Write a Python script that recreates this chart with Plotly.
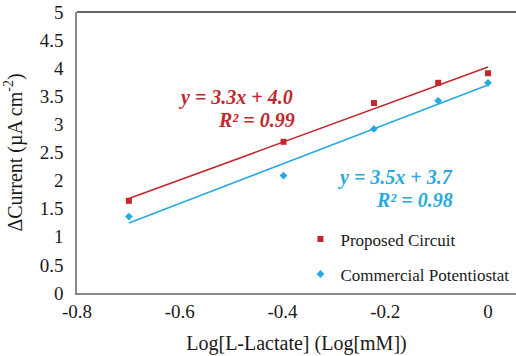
import numpy as np
import plotly.graph_objects as go

log_conc = [-0.699, -0.398, -0.222, -0.097, 0.0]
proposed = [1.64, 2.69, 3.38, 3.74, 3.91]
commercial = [1.36, 2.09, 2.92, 3.42, 3.74]
series_names = ["Proposed Circuit", "Commercial Potentiostat"]
eq_proposed = ["y = 3.3x + 4.0", "R² = 0.99"]
eq_commercial = ["y = 3.5x + 3.7", "R² = 0.98"]
x_ticks = [-0.8, -0.6, -0.4, -0.2, 0]
x_tick_labels = ["-0.8", "-0.6", "-0.4", "-0.2", "0"]
y_ticks = [0, 0.5, 1, 1.5, 2, 2.5, 3, 3.5, 4, 4.5, 5]
y_tick_labels = ["0", "0.5", "1", "1.5", "2", "2.5", "3", "3.5", "4", "4.5", "5"]

RED = "#C1272D"
BLUE = "#27AAE1"
FONT = "Liberation Serif"
TXT = "#1a1a1a"

x = np.array(log_conc)
xs = np.array([min(log_conc), max(log_conc)])

fig = go.Figure()
for ys, color, sym, size, name in [
    (proposed, RED, "square", 6, series_names[0]),
    (commercial, BLUE, "diamond", 6, series_names[1]),
]:
    m, b = np.polyfit(x, np.array(ys), 1)
    fig.add_trace(go.Scatter(x=xs, y=m * xs + b, mode="lines",
                             line=dict(color=color, width=1.6),
                             showlegend=False, hoverinfo="skip"))
    fig.add_trace(go.Scatter(x=log_conc, y=ys, mode="markers", name=name,
                             legendgroup=name,
                             marker=dict(color=color, symbol=sym, size=size)))

ann_font_r = dict(family=FONT, size=20, color=RED)
ann_font_b = dict(family=FONT, size=20, color=BLUE)
annotations = [
    dict(x=-0.49, y=3.47, text="<b><i>" + eq_proposed[0] + "</i></b>", font=ann_font_r,
         xanchor="center", yanchor="middle", showarrow=False),
    dict(x=-0.372, y=3.08, text="<b><i>" + eq_proposed[1] + "</i></b>", font=ann_font_r,
         xanchor="right", yanchor="middle", showarrow=False),
    dict(x=-0.064, y=2.05, text="<b><i>" + eq_commercial[0] + "</i></b>", font=ann_font_b,
         xanchor="right", yanchor="middle", showarrow=False),
    dict(x=-0.064, y=1.66, text="<b><i>" + eq_commercial[1] + "</i></b>", font=ann_font_b,
         xanchor="right", yanchor="middle", showarrow=False),
]

fig.update_layout(
    width=516, height=356,
    margin=dict(l=77, r=0, t=12, b=63),
    paper_bgcolor="white", plot_bgcolor="white",
    font=dict(family=FONT, size=19, color=TXT),
    annotations=annotations,
    legend=dict(x=0.509, y=0.255, xanchor="left", yanchor="top",
                font=dict(family=FONT, size=17, color=TXT),
                bgcolor="rgba(0,0,0,0)", itemsizing="trace", itemwidth=30,
                tracegroupgap=10),
    shapes=[dict(type="line", xref="paper", yref="paper", x0=0, x1=1, y0=1, y1=1,
                 line=dict(color="#333333", width=1.5))],
    xaxis=dict(range=[-0.8, 0.0545], tickvals=x_ticks, ticktext=x_tick_labels,
               showgrid=False, zeroline=False, showline=True, linecolor="#888888",
               linewidth=1.5, ticks="", ticklen=0, automargin=False,
               tickfont=dict(family=FONT, size=19, color=TXT),
               title=dict(text="Log[L-Lactate] (Log[mM])", standoff=15,
                          font=dict(family=FONT, size=20, color=TXT))),
    yaxis=dict(range=[0, 5], tickvals=y_ticks, ticktext=y_tick_labels,
               showgrid=False, zeroline=False, showline=True, linecolor="#888888",
               linewidth=1.5, ticks="", ticklen=0, automargin=False,
               ticklabelstandoff=8,
               tickfont=dict(family=FONT, size=19, color=TXT),
               title=dict(text="ΔCurrent (µA cm<sup>-2</sup>)", standoff=12,
                          font=dict(family=FONT, size=20, color=TXT))),
)

fig.write_html("out.html", config={"displayModeBar": False},
               post_script="document.body.style.margin='0';")
